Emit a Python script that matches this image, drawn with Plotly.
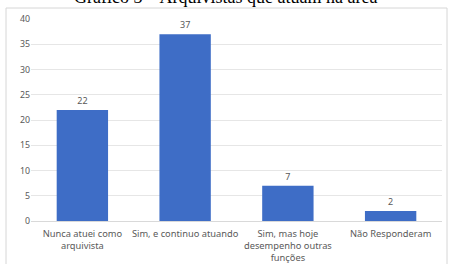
import plotly.graph_objects as go

categories = ["Nunca atuei como<br>arquivista", "Sim, e continuo atuando",
              "Sim, mas hoje<br>desempenho outras<br>funções", "Não Responderam"]
values = [22, 37, 7, 2]
y_ticks = [0, 5, 10, 15, 20, 25, 30, 35, 40]
title = "Gráfico 3 – Arquivistas que atuam na área"

fig = go.Figure(go.Bar(
    x=categories, y=values, text=values, textposition="outside",
    marker=dict(color="#3E6DC6", line=dict(width=0)),
    textfont=dict(family="Noto Sans", size=9, color="#595959"),
    cliponaxis=False,
))

W, H = 449, 264
ml, mr, mt, mb = 31, 7, 19, 43
fig.update_layout(
    width=W, height=H,
    margin=dict(l=ml, r=mr, t=mt, b=mb),
    paper_bgcolor="white", plot_bgcolor="white",
    bargap=0.5, showlegend=False,
    xaxis=dict(tickfont=dict(family="Noto Sans", size=9.3, color="#595959"),
               showline=True, linecolor="#D9D9D9", linewidth=1, ticks="",
               ticklabelstandoff=4, automargin=False,
               showgrid=False, fixedrange=True),
    yaxis=dict(range=[0, 40], tickvals=y_ticks, automargin=False,
               tickfont=dict(family="Noto Sans", size=8.8, color="#595959"),
               gridcolor="#E6E6E6", gridwidth=1, zeroline=False,
               showline=False, ticks="", fixedrange=True),
    shapes=[dict(type="rect", xref="paper", yref="paper",
                 x0=-(ml - 6) / (W - ml - mr), x1=1 + (mr - 2) / (W - ml - mr),
                 y0=-(mb + 5) / (H - mt - mb), y1=1 + (mt - 8) / (H - mt - mb),
                 line=dict(color="#D6D6D6", width=1), layer="below")],
    annotations=[dict(text=title, xref="paper", yref="paper",
                      x=(225 - ml) / (W - ml - mr), y=1 + (mt + 3) / (H - mt - mb),
                      xanchor="center", yanchor="middle", showarrow=False,
                      font=dict(family="Liberation Serif", size=18, color="black"))],
)
fig.write_html("out.html", config={"displayModeBar": False},
               post_script="document.body.style.margin='0';document.body.style.overflow='hidden';")
